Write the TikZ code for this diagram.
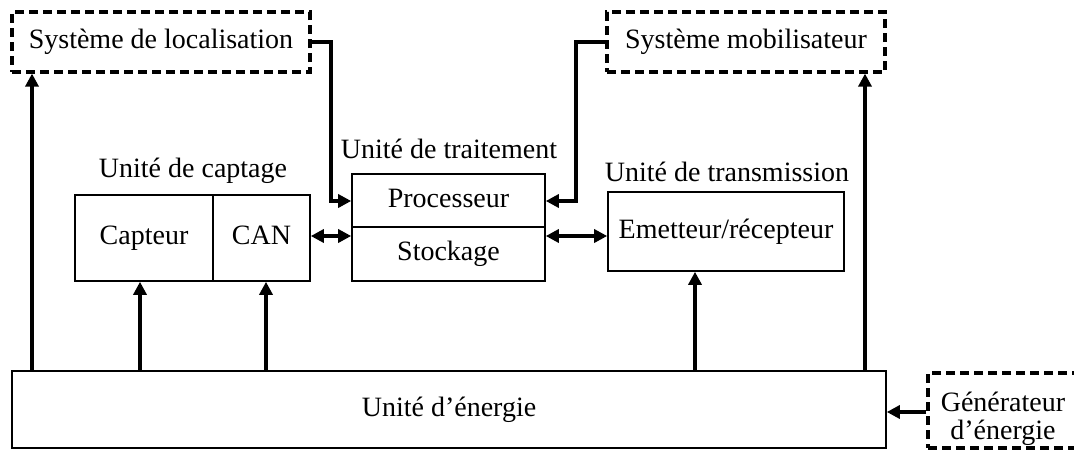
\documentclass[tikz,border=0pt]{standalone}
\usepackage{fontspec}
\setmainfont{Liberation Serif}
\usetikzlibrary{arrows.meta,calc}
\begin{document}
\begin{tikzpicture}[x=1pt,y=-1pt,
  txt/.style={font=\fontsize{28}{28}\selectfont},
  box/.style={draw, line width=1.6pt, inner sep=0pt, txt, text height=19pt, text depth=6pt},
  dbox/.style={draw, line width=3.2pt, dash pattern=on 9pt off 5pt, inner sep=0pt, txt},
  lab/.style={inner sep=0pt, txt},
  tip/.style={-{Triangle[length=13pt,width=13pt]}},
  conn/.style={line width=3.5pt, tip},
  dconn/.style={line width=3.5pt, {Triangle[length=13pt,width=13pt]}-{Triangle[length=13pt,width=13pt]}},
  plain/.style={line width=3.5pt}]
\useasboundingbox (0,0) rectangle (1074,450);
\clip (0,0) rectangle (1074,450);
\fill[white] (0,0) rectangle (1074,450);

% dashed external systems
\node[dbox, minimum width=298pt, minimum height=60pt] (loc) at (161,42) {Système de localisation};
\node[dbox, minimum width=278pt, minimum height=60pt] (mob) at (746,42) {Système mobilisateur};
\node[dbox, minimum width=172pt, minimum height=75pt] (gen) at (1014,410.5) {};
\node[lab, align=center] (gentxt) at (1003,419) {Générateur\\d’énergie};

% captage
\node[box, minimum width=138pt, minimum height=86pt] (capteur) at (144,238) {Capteur};
\node[box, minimum width=97pt, minimum height=86pt] (can) at (261.5,238) {CAN};
\node[lab] (lcapt) at (193,171) {Unité de captage};

% traitement
\node[box, minimum width=193pt, minimum height=53pt] (proc) at (448.5,200.5) {Processeur};
\node[box, minimum width=193pt, minimum height=54pt] (stock) at (448.5,254) {Stockage};
\node[lab] (ltrait) at (449,149) {Unité de traitement};

% transmission
\node[box, minimum width=236pt, minimum height=79pt] (emet) at (726,231.5) {Emetteur/récepteur};
\node[lab] (ltrans) at (727,172) {Unité de transmission};

% energie
\node[box, minimum width=874pt, minimum height=77pt] (ener) at (449,409.5) {Unité d’énergie};

% power arrows
\draw[conn] (ener.north -| 32,0) -- (loc.south -| 32,0);
\draw[conn] (ener.north -| 140,0) -- (capteur.south -| 140,0);
\draw[conn] (ener.north -| 266,0) -- (can.south -| 266,0);
\draw[conn] (ener.north -| 695,0) -- (emet.south -| 695,0);
\draw[conn] (ener.north -| 865,0) -- (mob.south -| 865,0);

% control links
\coordinate (c1) at (331,42);
\coordinate (c2) at (331,201);
\draw[conn] (loc.east) -- (c1) -- (c2) -- (c2 -| proc.west);
\coordinate (c3) at (576,42);
\coordinate (c4) at (576,201);
\draw[conn] (mob.west) -- (c3) -- (c4) -- (c4 -| proc.east);

% data links
\coordinate (d1) at (0,236);
\draw[dconn] (can.east |- d1) -- (stock.west |- d1);
\draw[dconn] (stock.east |- d1) -- (emet.west |- d1);

% generator
\draw[conn] (gen.west |- 0,412) -- (ener.east |- 0,412);
\end{tikzpicture}
\end{document}
